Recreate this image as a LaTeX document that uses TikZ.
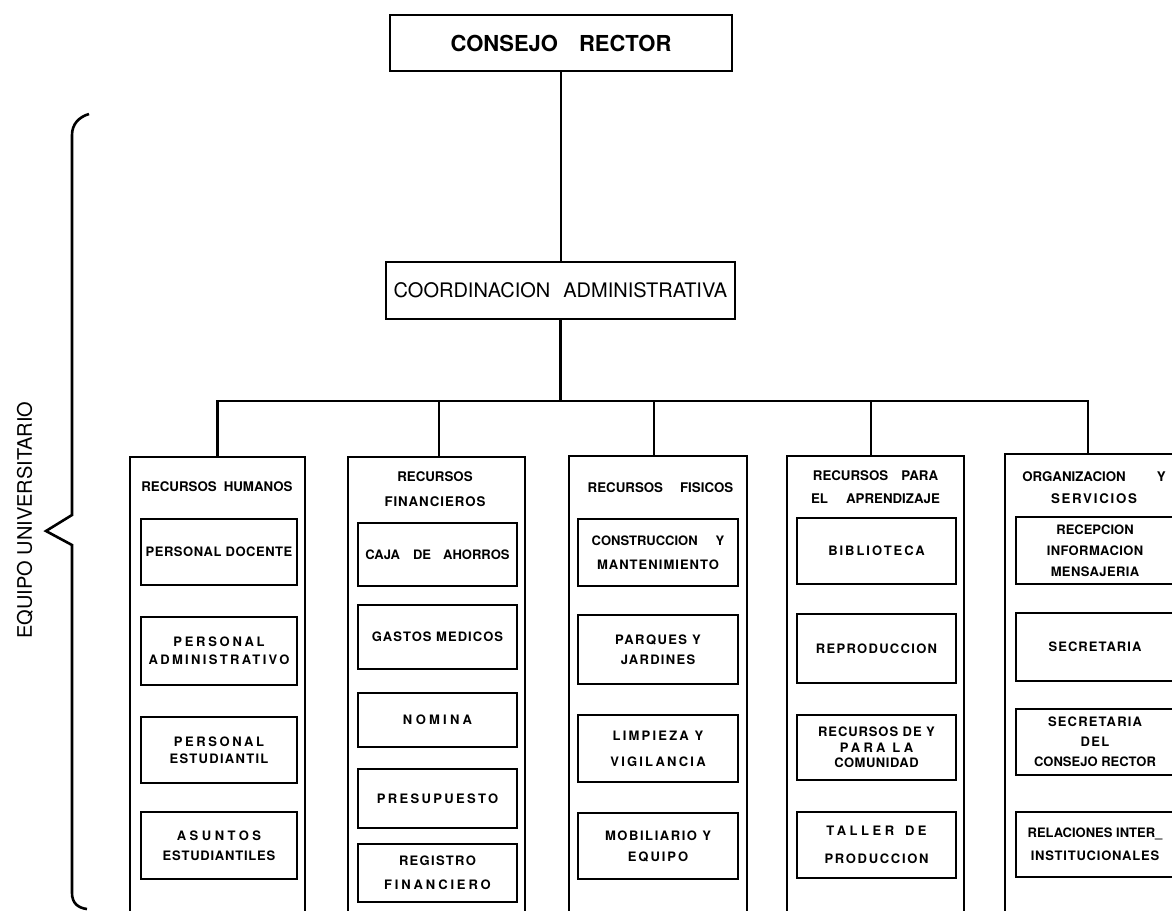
\documentclass[tikz,border=0pt]{standalone}
\usepackage{fontspec}
\setmainfont{TeX Gyre Heros}
\newcommand\LS[2]{{\addfontfeature{LetterSpace=#1}#2}}
\begin{document}
\begin{tikzpicture}[x=1pt,y=-1pt,
  box/.style={draw,line width=2.6pt,inner sep=0pt,outer sep=0pt,align=center},
  col/.style={draw,line width=2.4pt,inner sep=0pt,outer sep=0pt},
  link/.style={line width=2.4pt},
  sz/.style 2 args={minimum width=#1pt,minimum height=#2pt},
  inbox/.style={box,font=\bfseries\fontsize{13}{#1}\selectfont},
  inbox/.default=16,
  ttl/.style={inner sep=0pt,align=center,font=\bfseries\fontsize{13.3}{#1}\selectfont},
  ttl/.default=16]
\useasboundingbox (0,0) rectangle (1172,910);
\clip (0,0) rectangle (1172,910);
\fill[white] (0,0) rectangle (1172,910);

% top boxes
\node[box,sz={342}{56},font=\bfseries\fontsize{22}{26}\selectfont] (cr) at (561,43) {CONSEJO\hspace{21pt}RECTOR};
\node[box,sz={349}{57},font=\fontsize{20}{24}\selectfont] (ca) at (560.5,290.5) {COORDINACION\hspace{13pt}ADMINISTRATIVA};

% columns
\node[col,sz={175}{468}] (c1) at (217.5,691) {};
\node[col,sz={177}{468}] (c2) at (436.5,691) {};
\node[col,sz={178}{469}] (c3) at (658,690.5) {};
\node[col,sz={177}{469}] (c4) at (875.5,690.5) {};
\node[col,sz={180}{471}] (c5) at (1095,689.5) {};

% column titles
\node[ttl] (h1) at (217,487) {RECURSOS\hspace{7pt}HUMANOS};
\node[ttl=25] (h2) at (435,489.5) {RECURSOS\\\LS{7}{FINANCIEROS}};
\node[ttl] (h3) at (660.5,488) {RECURSOS\hspace{17pt}FISICOS};
\node[ttl=23] (h4) at (875.5,487.5) {RECURSOS\hspace{13pt}PARA\\EL\hspace{18pt}APRENDIZAJE};
\node[ttl=22] (h5) at (1094,488) {ORGANIZACION\hspace{31pt}Y\\\LS{13}{SERVICIOS}};

% column 1
\node[inbox,sz={156}{66}] (d11) at (219,552) {\LS{4}{PERSONAL DOCENTE}};
\node[inbox=18,sz={156}{68}] (d12) at (219,651) {\LS{21}{PERSONAL}\\\LS{18}{ADMINISTRATIVO}};
\node[inbox=17,sz={156}{66}] (d13) at (219,750) {\LS{20}{PERSONAL}\\\LS{10}{ESTUDIANTIL}};
\node[inbox=20,sz={156}{67}] (d14) at (219,845.5) {\LS{27}{ASUNTOS}\\\LS{6}{ESTUDIANTILES}};

% column 2
\node[inbox,sz={159}{63}] (d21) at (437.5,554.5) {CAJA\hspace{13pt}DE\hspace{12pt}AHORROS};
\node[inbox,sz={159}{64}] (d22) at (437.5,637) {\LS{8}{GASTOS MEDICOS}};
\node[inbox,sz={159}{54}] (d23) at (437.5,720) {\LS{25}{NOMINA}};
\node[inbox,sz={159}{59}] (d24) at (437.5,798.5) {\LS{18}{PRESUPUESTO}};
\node[inbox=24,sz={159}{58}] (d25) at (437.5,873) {\LS{10}{REGISTRO}\\\LS{22}{FINANCIERO}};

% column 3
\node[inbox=24,sz={160}{67}] (d31) at (658,552.5) {CONSTRUCCION\hspace{18pt}Y\\\LS{8}{MANTENIMIENTO}};
\node[inbox=20,sz={160}{69}] (d32) at (658,649.5) {\LS{11}{PARQUES Y}\\\LS{10}{JARDINES}};
\node[inbox=26,sz={160}{67}] (d33) at (658,748.5) {\LS{17}{LIMPIEZA Y}\\\LS{17}{VIGILANCIA}};
\node[inbox=21,sz={160}{66}] (d34) at (658,846) {\LS{12}{MOBILIARIO Y}\\\LS{15}{EQUIPO}};

% column 4
\node[inbox,sz={159}{66}] (d41) at (876.5,551) {\LS{15}{BIBLIOTECA}};
\node[inbox,sz={159}{69}] (d42) at (876.5,648.5) {\LS{10}{REPRODUCCION}};
\node[inbox=15.5,sz={159}{65}] (d43) at (876.5,747.5) {\LS{7}{RECURSOS DE Y}\\\LS{25}{PARA LA}\\\LS{4}{COMUNIDAD}};
\node[inbox=28,sz={159}{66}] (d44) at (876.5,845) {\LS{27}{TALLER}\hspace{11pt}\LS{25}{DE}\\\LS{13}{PRODUCCION}};

% column 5
\node[inbox=21,sz={158}{67}] (d51) at (1095,550.5) {RECEPCION\\\LS{3}{INFORMACION}\\\LS{3}{MENSAJERIA}};
\node[inbox,sz={158}{68}] (d52) at (1095,647) {\LS{8}{SECRETARIA}};
\node[inbox=20,sz={158}{66}] (d53) at (1095,742) {\LS{9}{SECRETARIA}\\\LS{10}{DEL}\\CONSEJO RECTOR};
\node[inbox=23,sz={158}{65}] (d54) at (1095,844.5) {RELACIONES INTER\_\\\LS{6}{INSTITUCIONALES}};

% connectors
\coordinate (bar) at (0,401);
\coordinate (t2) at ([xshift=2.5pt]c2.north);
\coordinate (t3) at ([xshift=-4pt]c3.north);
\coordinate (t4) at ([xshift=-4.5pt]c4.north);
\coordinate (t5) at ([xshift=-7pt]c5.north);
\draw[link] (cr.south) -- (cr.south |- ca.north);
\draw[link] (ca.south) -- (ca.south |- bar);
\draw[link] (c1.north) |- (ca.south |- bar) -| (t5);
\draw[link] (t2) -- (t2 |- bar);
\draw[link] (t3) -- (t3 |- bar);
\draw[link] (t4) -- (t4 |- bar);

% brace
\draw[line width=2.6pt,line join=miter] (89,114) .. controls (79,117) and (72,124) .. (72,135) -- (72,515) -- (46,531) -- (72,545) -- (72,893) .. controls (72,903) and (78,908) .. (87,909);
\node[rotate=90,inner sep=0pt,font=\fontsize{20}{24}\selectfont] (eq) at (25,520) {EQUIPO UNIVERSITARIO};
\end{tikzpicture}
\end{document}
